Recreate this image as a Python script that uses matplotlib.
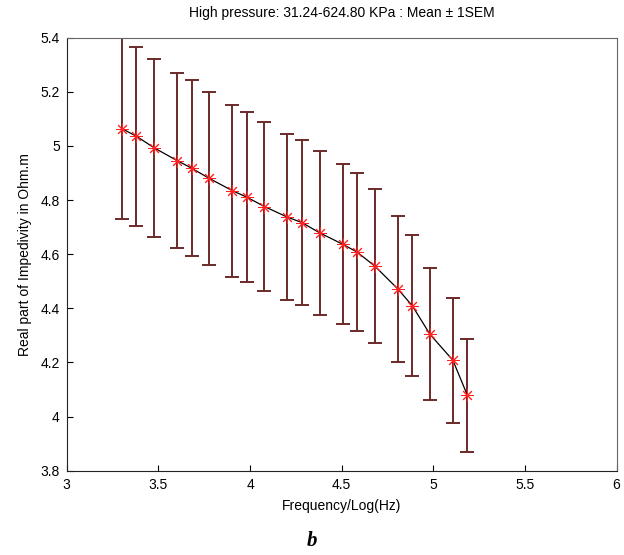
import numpy as np
import matplotlib
matplotlib.use('Agg')
import matplotlib.pyplot as plt

plt.rcParams['font.family'] = ['Liberation Sans', 'DejaVu Sans']

# log10 of frequency (Hz)
freq_log = [3.301, 3.380, 3.477, 3.602, 3.681, 3.778, 3.903, 3.982, 4.079, 4.204,
            4.283, 4.380, 4.505, 4.584, 4.681, 4.806, 4.885, 4.982, 5.107, 5.186]
# mean real part of impedivity (Ohm.m)
mean_vals = [5.064, 5.036, 4.993, 4.946, 4.918, 4.880, 4.835, 4.811, 4.776, 4.737,
             4.717, 4.679, 4.637, 4.608, 4.556, 4.472, 4.410, 4.304, 4.208, 4.079]
# 1 SEM
sem_vals = [0.334, 0.331, 0.328, 0.324, 0.324, 0.319, 0.318, 0.315, 0.312, 0.308,
            0.305, 0.303, 0.296, 0.291, 0.284, 0.270, 0.261, 0.244, 0.231, 0.209]

x_ticks = [3, 3.5, 4, 4.5, 5, 5.5, 6]
x_ticklabels = ['3', '3.5', '4', '4.5', '5', '5.5', '6']
y_ticks = [3.8, 4, 4.2, 4.4, 4.6, 4.8, 5, 5.2, 5.4]
y_ticklabels = ['3.8', '4', '4.2', '4.4', '4.6', '4.8', '5', '5.2', '5.4']

fig = plt.figure(figsize=(6.24, 5.55), dpi=100)
ax = fig.add_axes([0.107, 0.152, 0.881, 0.780])

ax.errorbar(freq_log, mean_vals, yerr=sem_vals, fmt='none',
            ecolor='#6b2a2a', elinewidth=1.4, capsize=5, capthick=1.4, zorder=2)
ax.plot(freq_log, mean_vals, color='k', lw=0.9, zorder=3)
# MATLAB style asterisk marker (8 spokes)
ax.plot(freq_log, mean_vals, linestyle='None', marker=(8, 2, 0), color='#ff2020',
        markersize=9, markeredgewidth=0.7, zorder=4)

ax.set_xlim(3, 6)
ax.set_ylim(3.8, 5.4)
ax.set_xticks(x_ticks)
ax.set_xticklabels(x_ticklabels)
ax.set_yticks(y_ticks)
ax.set_yticklabels(y_ticklabels)
ax.tick_params(direction='in', length=4, labelsize=10, pad=5, colors='k')
for side in ['top', 'right']:
    ax.spines[side].set_color('#666666')
for side in ['left', 'bottom']:
    ax.spines[side].set_color('#222222')

ax.set_title('High pressure: 31.24-624.80 KPa : Mean \u00b1 1SEM', fontsize=10, pad=15)
ax.set_xlabel('Frequency/Log(Hz)', fontsize=10, labelpad=5)
ax.set_ylabel('Real part of Impedivity in Ohm.m', fontsize=10, labelpad=6)

fig.text(0.5, 0.025, 'b', fontsize=15, fontweight='bold', fontstyle='italic',
         family='Liberation Serif', ha='center', va='center')

fig.savefig('out.png', dpi=100)
